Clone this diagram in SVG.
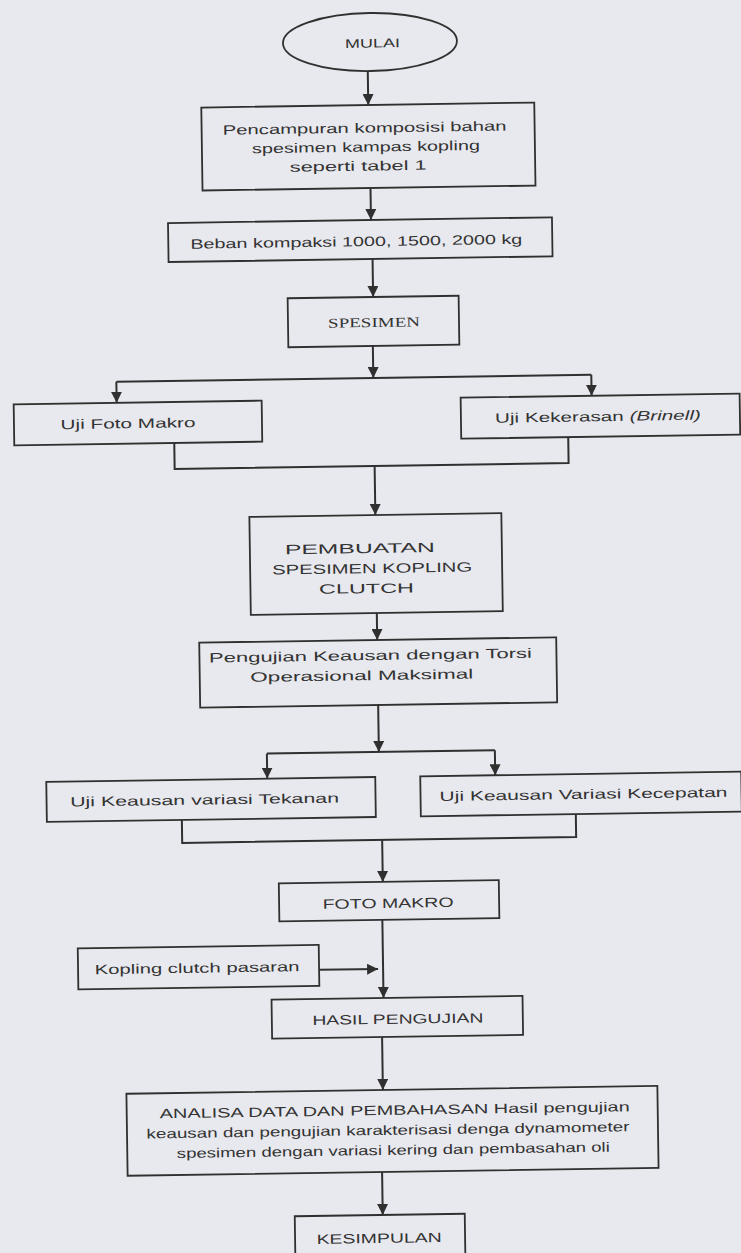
<svg xmlns="http://www.w3.org/2000/svg" width="741" height="1253" viewBox="0 0 741 1253">
<style>
.bg{fill:#e8e9ee}
.box{fill:none;stroke:#303030;stroke-width:1.8}
.ln{fill:none;stroke:#303030;stroke-width:2}
.t{font-family:"Liberation Sans",Arial,sans-serif;font-size:13.5px;fill:#333333;text-anchor:middle}
.s{font-family:"Liberation Serif","Times New Roman",serif;font-size:13.5px;fill:#333333;text-anchor:middle}
</style>
<defs>
<marker id="ah" markerUnits="userSpaceOnUse" markerWidth="11" markerHeight="11" refX="11" refY="5.5" orient="auto">
<path d="M0,0 L11,5.5 L0,11 Z" fill="#303030"/>
</marker>
</defs>
<rect class="bg" x="0" y="0" width="741" height="1253"/>
<g transform="rotate(-0.85 375 626)">
<g id="connectors">
<path class="ln" d="M376,71 V105" marker-end="url(#ah)"/>
<path class="ln" d="M377,188 V220" marker-end="url(#ah)"/>
<path class="ln" d="M378,259 V297" marker-end="url(#ah)"/>
<path class="ln" d="M377,346 V378" marker-end="url(#ah)"/>
<path class="ln" d="M120,378 H595"/>
<path class="ln" d="M120,378 V399" marker-end="url(#ah)"/>
<path class="ln" d="M595,378 V399" marker-end="url(#ah)"/>
<path class="ln" d="M177,440 V466 H571 V440"/>
<path class="ln" d="M377,466 V515" marker-end="url(#ah)"/>
<path class="ln" d="M377,613 V640" marker-end="url(#ah)"/>
<path class="ln" d="M377,705 V752" marker-end="url(#ah)"/>
<path class="ln" d="M265,752 H493"/>
<path class="ln" d="M265,752 V777" marker-end="url(#ah)"/>
<path class="ln" d="M493,752 V777" marker-end="url(#ah)"/>
<path class="ln" d="M179,817 V840 H573 V817"/>
<path class="ln" d="M379,840 V882" marker-end="url(#ah)"/>
<path class="ln" d="M378,920 V998" marker-end="url(#ah)"/>
<path class="ln" d="M314,969 H373" marker-end="url(#ah)"/>
<path class="ln" d="M376,1037 V1090" marker-end="url(#ah)"/>
<path class="ln" d="M374,1172 V1215" marker-end="url(#ah)"/>
</g>
<g id="mulai">
<ellipse class="box" cx="378.6" cy="42" rx="87" ry="29"/>
<text class="t" x="381" y="47.5" style="font-size:12.5px" textLength="55" lengthAdjust="spacingAndGlyphs">MULAI</text>
</g>
<g id="pencampuran">
<rect class="box" x="209" y="105" width="333" height="83"/>
<text class="t" x="372" y="132.5" textLength="284" lengthAdjust="spacingAndGlyphs">Pencampuran komposisi bahan</text>
<text class="t" x="373" y="151.5" textLength="228" lengthAdjust="spacingAndGlyphs">spesimen kampas kopling</text>
<text class="t" x="365" y="170.5" textLength="137" lengthAdjust="spacingAndGlyphs">seperti tabel 1</text>
</g>
<g id="beban">
<rect class="box" x="174" y="220" width="384" height="39"/>
<text class="t" x="362" y="246" textLength="332" lengthAdjust="spacingAndGlyphs">Beban kompaksi 1000, 1500, 2000 kg</text>
</g>
<g id="spesimen">
<rect class="box" x="292.5" y="297" width="171" height="49"/>
<text class="s" x="378.5" y="327" textLength="92" lengthAdjust="spacingAndGlyphs">SPESIMEN</text>
</g>
<g id="uji-foto-makro">
<rect class="box" x="17" y="399" width="248" height="41"/>
<text class="t" x="131" y="424.5" textLength="135" lengthAdjust="spacingAndGlyphs">Uji Foto Makro</text>
</g>
<g id="uji-kekerasan">
<rect class="box" x="464" y="399" width="279" height="41"/>
<text class="t" x="601" y="424.5" textLength="206" lengthAdjust="spacingAndGlyphs">Uji Kekerasan <tspan font-style="italic">(Brinell)</tspan></text>
</g>
<g id="pembuatan">
<rect class="box" x="251" y="515" width="252" height="98"/>
<text class="t" x="361" y="553" textLength="150" lengthAdjust="spacingAndGlyphs">PEMBUATAN</text>
<text class="t" x="373" y="573" textLength="200" lengthAdjust="spacingAndGlyphs">SPESIMEN  KOPLING</text>
<text class="t" x="367" y="593" textLength="95" lengthAdjust="spacingAndGlyphs">CLUTCH</text>
</g>
<g id="pengujian">
<rect class="box" x="199" y="640" width="357" height="65"/>
<text class="t" x="370" y="660" textLength="323" lengthAdjust="spacingAndGlyphs">Pengujian Keausan dengan Torsi</text>
<text class="t" x="361" y="680" textLength="223" lengthAdjust="spacingAndGlyphs">Operasional Maksimal</text>
</g>
<g id="uji-tekanan">
<rect class="box" x="44" y="777" width="329" height="40"/>
<text class="t" x="202" y="802" textLength="269" lengthAdjust="spacingAndGlyphs">Uji Keausan variasi Tekanan</text>
</g>
<g id="uji-kecepatan">
<rect class="box" x="418" y="777" width="321" height="40"/>
<text class="t" x="581" y="802" textLength="288" lengthAdjust="spacingAndGlyphs">Uji Keausan Variasi Kecepatan</text>
</g>
<g id="foto-makro">
<rect class="box" x="275" y="882" width="220" height="38"/>
<text class="t" x="384" y="908" textLength="131" lengthAdjust="spacingAndGlyphs">FOTO MAKRO</text>
</g>
<g id="kopling-pasaran">
<rect class="box" x="73" y="944" width="241" height="41"/>
<text class="t" x="192" y="970" textLength="205" lengthAdjust="spacingAndGlyphs">Kopling clutch pasaran</text>
</g>
<g id="hasil">
<rect class="box" x="266" y="998" width="251" height="39"/>
<text class="t" x="392" y="1024" textLength="171" lengthAdjust="spacingAndGlyphs">HASIL PENGUJIAN</text>
</g>
<g id="analisa">
<rect class="box" x="119.5" y="1090" width="531" height="82"/>
<text class="t" x="387.5" y="1115" textLength="470" lengthAdjust="spacingAndGlyphs">ANALISA DATA DAN PEMBAHASAN Hasil pengujian</text>
<text class="t" x="380.5" y="1135" textLength="483" lengthAdjust="spacingAndGlyphs">keausan dan pengujian karakterisasi denga dynamometer</text>
<text class="t" x="385.5" y="1155" textLength="433" lengthAdjust="spacingAndGlyphs">spesimen dengan variasi kering dan pembasahan oli</text>
</g>
<g id="kesimpulan">
<rect class="box" x="286" y="1215" width="170" height="45"/>
<text class="t" x="370" y="1243" textLength="125" lengthAdjust="spacingAndGlyphs">KESIMPULAN</text>
</g>
</g>
</svg>
